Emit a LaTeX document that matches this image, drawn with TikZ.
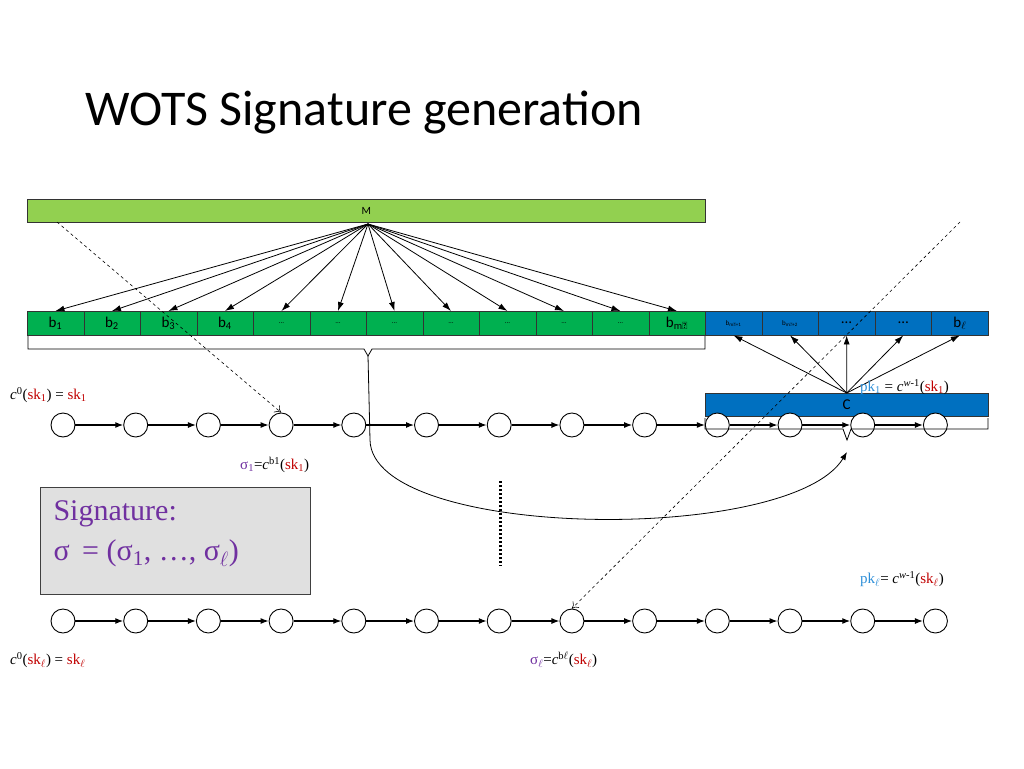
\documentclass[tikz,border=0pt]{standalone}
\usepackage{fontspec}
\setmainfont{Carlito}
\newfontfamily\tnr{Liberation Serif}
\usetikzlibrary{arrows.meta}
\definecolor{gcell}{HTML}{00B050}
\definecolor{lgreen}{HTML}{92D050}
\definecolor{bcell}{HTML}{0070C0}
\definecolor{dred}{HTML}{C00000}
\definecolor{purp}{HTML}{7030A0}
\definecolor{pkb}{HTML}{2E8FD8}
\tikzset{
 cell/.style={draw=black!80,minimum width=56.5pt,minimum height=24pt,inner sep=0pt,font=\fontsize{15}{15}\selectfont,anchor=north west},
 chainnode/.style={circle,draw,line width=0.9pt,minimum size=24pt,inner sep=0pt,fill=white},
 link/.style={line width=1.2pt,-{Latex[length=8pt,width=6pt]}},
 fan/.style={line width=0.8pt,-{Latex[length=9pt,width=6pt]}},
 dasharrow/.style={dashed,line width=0.6pt,-{To[length=6pt,width=9pt]}},
 lbl/.style={font=\tnr\fontsize{15}{15}\selectfont,inner sep=0pt}
}
\begin{document}
\begin{tikzpicture}[x=1pt,y=-1pt]
\useasboundingbox (0,0) rectangle (1024,768);
\node[anchor=west,font=\fontsize{50}{50}\selectfont] (title) at (82,113) {WOTS Signature generation};
\node[draw=black!80,fill=lgreen,minimum width=678pt,minimum height=23pt,inner sep=0pt,anchor=north west,font=\fontsize{11}{11}\selectfont] (M) at (27,199) {M};
\coordinate (msrc) at (368,224);
% green cells
\foreach \i/\t in {1/b\textsubscript{1},2/b\textsubscript{2},3/b\textsubscript{3},4/b\textsubscript{4},5/\scriptsize…,6/\scriptsize…,7/\scriptsize…,8/\scriptsize…,9/\scriptsize…,10/\scriptsize…,11/\scriptsize…,12/b\textsubscript{m′}}{
 \node[cell,fill=gcell] (g\i) at ({27+56.5*(\i-1)},311) {\t};
 \draw[fan] (msrc) -- (g\i.north);
}
\foreach \i/\t in {1/\scriptsize b\textsubscript{m′+1},2/\scriptsize b\textsubscript{m′+2},3/…,4/…,5/b$_\ell$}{
 \node[cell,fill=bcell] (u\i) at ({705+56.6*(\i-1)},311) {\t};
}
% C bar
\node[draw=black!80,fill=bcell,minimum width=283pt,minimum height=23pt,inner sep=0pt,anchor=north west,font=\fontsize{15}{15}\selectfont] (C) at (705,393) {C};
% chains
\foreach \i in {1,...,13}{
 \node[chainnode] (a\i) at ({63+72.7*(\i-1)},425) {};
 \node[chainnode] (z\i) at ({63+72.7*(\i-1)},621) {};
}
\foreach \i [evaluate=\i as \j using int(\i+1)] in {1,...,12}{
 \draw[link] (a\i) -- (a\j);
 \draw[link] (z\i) -- (z\j);
}
% braces
\draw[line width=0.8pt] (28,336) |- (364,349) -- (368,356) -- (372,349) -| (705,336);
\draw[line width=0.8pt] (705,418) |- (843,429) -- (847,440) -- (851,429) -| (988,418);
\coordinate (btip) at (368,356);
\coordinate (ctip) at (847,452);
\draw[line width=0.8pt,-{Latex[length=8pt,width=6pt]}] (btip) -- (370,440) .. controls (372,540) and (790,545) .. (ctip);
\foreach \i in {1,...,5}{ \draw[fan] (C.north) -- (u\i.south); }
% dashed
\coordinate (d1) at (57,222);
\coordinate (d2) at (960,222);
\draw[dasharrow] (d1) -- (a4.north);
\draw[dasharrow] (d2) -- (z8.north);
% dotted
\draw[line width=3pt,dash pattern=on 2pt off 2pt] (500,481) -- (500,566);
% labels
\node[lbl,anchor=west] (l1) at (10,395) {\textit{c}\textsuperscript{0}(\textcolor{dred}{sk\textsubscript{1}}) = \textcolor{dred}{sk\textsubscript{1}}};
\node[lbl,anchor=west] (l2) at (240,465) {\textcolor{purp}{σ\textsubscript{1}}=\textit{c}\textsuperscript{b1}(\textcolor{dred}{sk\textsubscript{1}})};
\node[lbl,anchor=west] (l3) at (860,387) {\textcolor{pkb}{pk\textsubscript{1}} = \textit{c}\textsuperscript{\textit{w}-1}(\textcolor{dred}{sk\textsubscript{1}})};
\node[lbl,anchor=west] (l4) at (860,579) {\textcolor{pkb}{pk$_{\ell}$}= \textit{c}\textsuperscript{\textit{w}-1}(\textcolor{dred}{sk$_{\ell}$})};
\node[lbl,anchor=west] (l5) at (10,660) {\textit{c}\textsuperscript{0}(\textcolor{dred}{sk$_{\ell}$}) = \textcolor{dred}{sk$_{\ell}$}};
\node[lbl,anchor=west] (l6) at (530,660) {\textcolor{purp}{σ$_{\ell}$}=\textit{c}\textsuperscript{b$\ell$}(\textcolor{dred}{sk$_{\ell}$})};
% signature box
\node[draw=black!75,fill=black!12,line width=0.8pt,minimum width=270pt,minimum height=107pt,anchor=north west,inner sep=0pt] (sig) at (40,487) {};
\node[anchor=north west,align=left,text=purp,font=\tnr\fontsize{30}{40}\selectfont] (sigt) at (50,497) {Signature:\\σ\, = (σ\textsubscript{1}, …, σ$_\ell$)};
\end{tikzpicture}
\end{document}
